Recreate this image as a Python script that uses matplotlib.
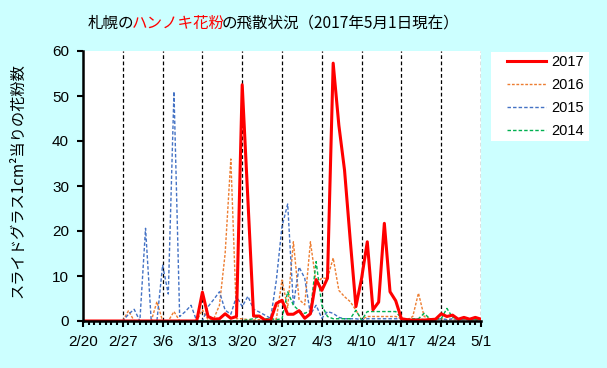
import matplotlib
matplotlib.use("Agg")
import matplotlib.pyplot as plt
from matplotlib.ticker import MultipleLocator, FixedLocator
from matplotlib.patches import Rectangle

# ---------------- data ----------------
tick_labels = ["2/20", "2/27", "3/6", "3/13", "3/20", "3/27", "4/3", "4/10", "4/17", "4/24", "5/1"]
days = list(range(71))  # day 0 = 2/20 ... day 70 = 5/1

y2017 = [0]*20 + [0, 6.4, 1.0, 0.4, 0.5, 1.6, 0.6, 1.0, 52.5, 27.0,
                  1.1, 1.1, 0.2, 0.2, 3.9, 4.6, 1.5, 1.5, 2.3, 0.6,
                  1.6, 9.2, 6.8, 9.5, 57.3, 43.5, 33.5, 18.0, 3.2, 9.5,
                  17.6, 2.5, 4.2, 21.7, 6.5, 4.5, 0.5, 0.3, 0.2, 0.2,
                  0.2, 0.3, 0.4, 1.6, 1.0, 1.3, 0.4, 0.8, 0.4, 0.8, 0.4]

y2016 = [0, 0, 0, 0, 0, 0, 0, 0, 2.3, 0,
         0, 0, 0, 4.3, 0, 0, 2.1, 0, 0, 0,
         0, 2.5, 0.3, 0.5, 3.5, 15.0, 36.0, 0.5, 0.5, 0.3,
         0.2, 0.3, 0.2, 0.5, 0.4, 9.1, 2.9, 17.6, 4.8, 3.6,
         17.6, 8.4, 9.5, 9.5, 14.0, 6.8, 5.4, 4.3, 2.4, 0.3,
         1.0, 1.0, 1.0, 1.0, 1.0, 1.0, 0.5, 0.3, 1.0, 6.2,
         1.0, 0.5, 0.3, 0.5, 0.3, 0.3, 0.2, 0.3, 0.2, 0.2, 0.2]

y2015 = [0, 0, 0, 0, 0, 0, 0, 0, 1.5, 2.6,
         0, 20.6, 0, 0, 12.4, 6.0, 51.0, 1.0, 2.1, 3.5,
         0, 0, 3.2, 4.8, 6.5, 2.4, 1.5, 5.5, 3.2, 5.5,
         2.6, 2.0, 1.3, 0.6, 9.0, 21.0, 26.0, 3.5, 12.0, 9.5,
         1.5, 3.5, 0.6, 2.1, 1.7, 0.8, 0.5, 0.5, 0.5, 0.3,
         0.5, 0.5, 0.5, 0.5, 0.5, 0.5, 0.5, 0.3, 0.3, 0.5,
         0.3, 0.3, 0.3, 0.5, 0.3, 0.5, 0.3, 0.3, 0.3, 0.3, 0.3]

y2014 = [0]*28 + [0, 0.3,
                  0.5, 1.0, 0.5, 0.5, 0.3, 0.5, 6.5, 3.5, 2.3, 1.7,
                  2.3, 13.2, 3.5, 1.0, 0.5, 0.5, 0.5, 0.5, 2.4, 0.2,
                  2.1, 2.1, 2.1, 2.1, 2.1, 2.1, 0.6, 0.3, 0.5, 0.5,
                  1.7, 0.5, 0.5, 0.5, 2.8, 0.8, 0.5, 0.5, 0.3, 0.3, 0.3]

series = [("2017", y2017), ("2016", y2016), ("2015", y2015), ("2014", y2014)]
colors = {"2017": "#FF0000", "2016": "#ED7D31", "2015": "#4472C4", "2014": "#00B050"}

# ---------------- figure ----------------
BG = "#CCFFFF"
W, H = 607, 368
fig = plt.figure(figsize=(W/100, H/100), dpi=100, facecolor=BG)
ax = fig.add_axes([83/W, 1-321/H, 398/W, 270/H])
ax.set_facecolor("white")

# weekly dashed vertical lines
for d in range(7, 71, 7):
    ax.axvline(d, color="black", lw=0.9, ls=(0, (3, 2)), zorder=1)

styles = {
    "2017": dict(lw=2.2, ls="-"),
    "2016": dict(lw=1.0, ls=(0, (2, 1.2))),
    "2015": dict(lw=1.0, ls=(0, (2.5, 1.5))),
    "2014": dict(lw=1.0, ls=(0, (2.5, 1.5))),
}
handles = {}
for name, vals in series:
    st = styles[name]
    (h,) = ax.plot(days, vals, color=colors[name], lw=st["lw"], ls=st["ls"],
                   zorder=5 if name == "2017" else 3, label=name)
    handles[name] = h

ax.set_xlim(0, 70)
ax.set_ylim(0, 60)
ax.xaxis.set_major_locator(FixedLocator(list(range(0, 71, 7))))
ax.set_xticklabels(tick_labels)
ax.xaxis.set_minor_locator(MultipleLocator(1))
ax.yaxis.set_major_locator(MultipleLocator(10))

for s in ["top", "right"]:
    ax.spines[s].set_visible(False)
for s in ["left", "bottom"]:
    ax.spines[s].set_linewidth(1.8)
    ax.spines[s].set_zorder(6)

tickfont = "Liberation Sans"
ax.tick_params(axis="both", which="major", direction="out", length=4, width=1.5,
               labelsize=11, pad=6)
ax.tick_params(axis="x", which="minor", direction="out", length=3, width=1.5)
for lab in ax.get_xticklabels() + ax.get_yticklabels():
    lab.set_fontfamily(tickfont)

cjk = ["Noto Sans CJK JP", "DejaVu Sans"]
fig.text(18/W, 1-181/H, "スライドグラス1cm²当りの花粉数", rotation=90,
         ha="center", va="center", fontsize=11, family=cjk)

# title with coloured part
ty = 1-23/H
fs_t = 11.2
t1 = fig.text(88/W, ty, "札幌の", fontsize=fs_t, family=cjk, va="center", ha="left")
t2 = fig.text(0, ty, "ハンノキ花粉", fontsize=fs_t, family=cjk, color="#FF0000", va="center")
t3 = fig.text(0, ty, "の飛散状況（2017年5月1日現在）", fontsize=fs_t, family=cjk, va="center")
fig.canvas.draw()
r = fig.canvas.get_renderer()
def place_after(prev, nxt, adj=-3):
    bb = prev.get_window_extent(r)
    nxt.set_x((bb.x1 + adj) / fig.bbox.width)
    fig.canvas.draw()
place_after(t1, t2)
place_after(t2, t3)

# legend box
fig.patches.append(Rectangle((491/W, 1-141/H), 98/W, 89/H, transform=fig.transFigure,
                             facecolor="white", edgecolor="none", zorder=0))
leg = fig.legend([handles[n] for n in ["2017", "2016", "2015", "2014"]],
                 ["2017", "2016", "2015", "2014"],
                 loc="upper left", bbox_to_anchor=(507/W, 1-55/H),
                 frameon=False, prop={"family": tickfont, "size": 10.5},
                 handlelength=2.7, handletextpad=0.35, labelspacing=0.62,
                 borderpad=0, borderaxespad=0)

fig.savefig("out.png", dpi=100, facecolor=BG)
